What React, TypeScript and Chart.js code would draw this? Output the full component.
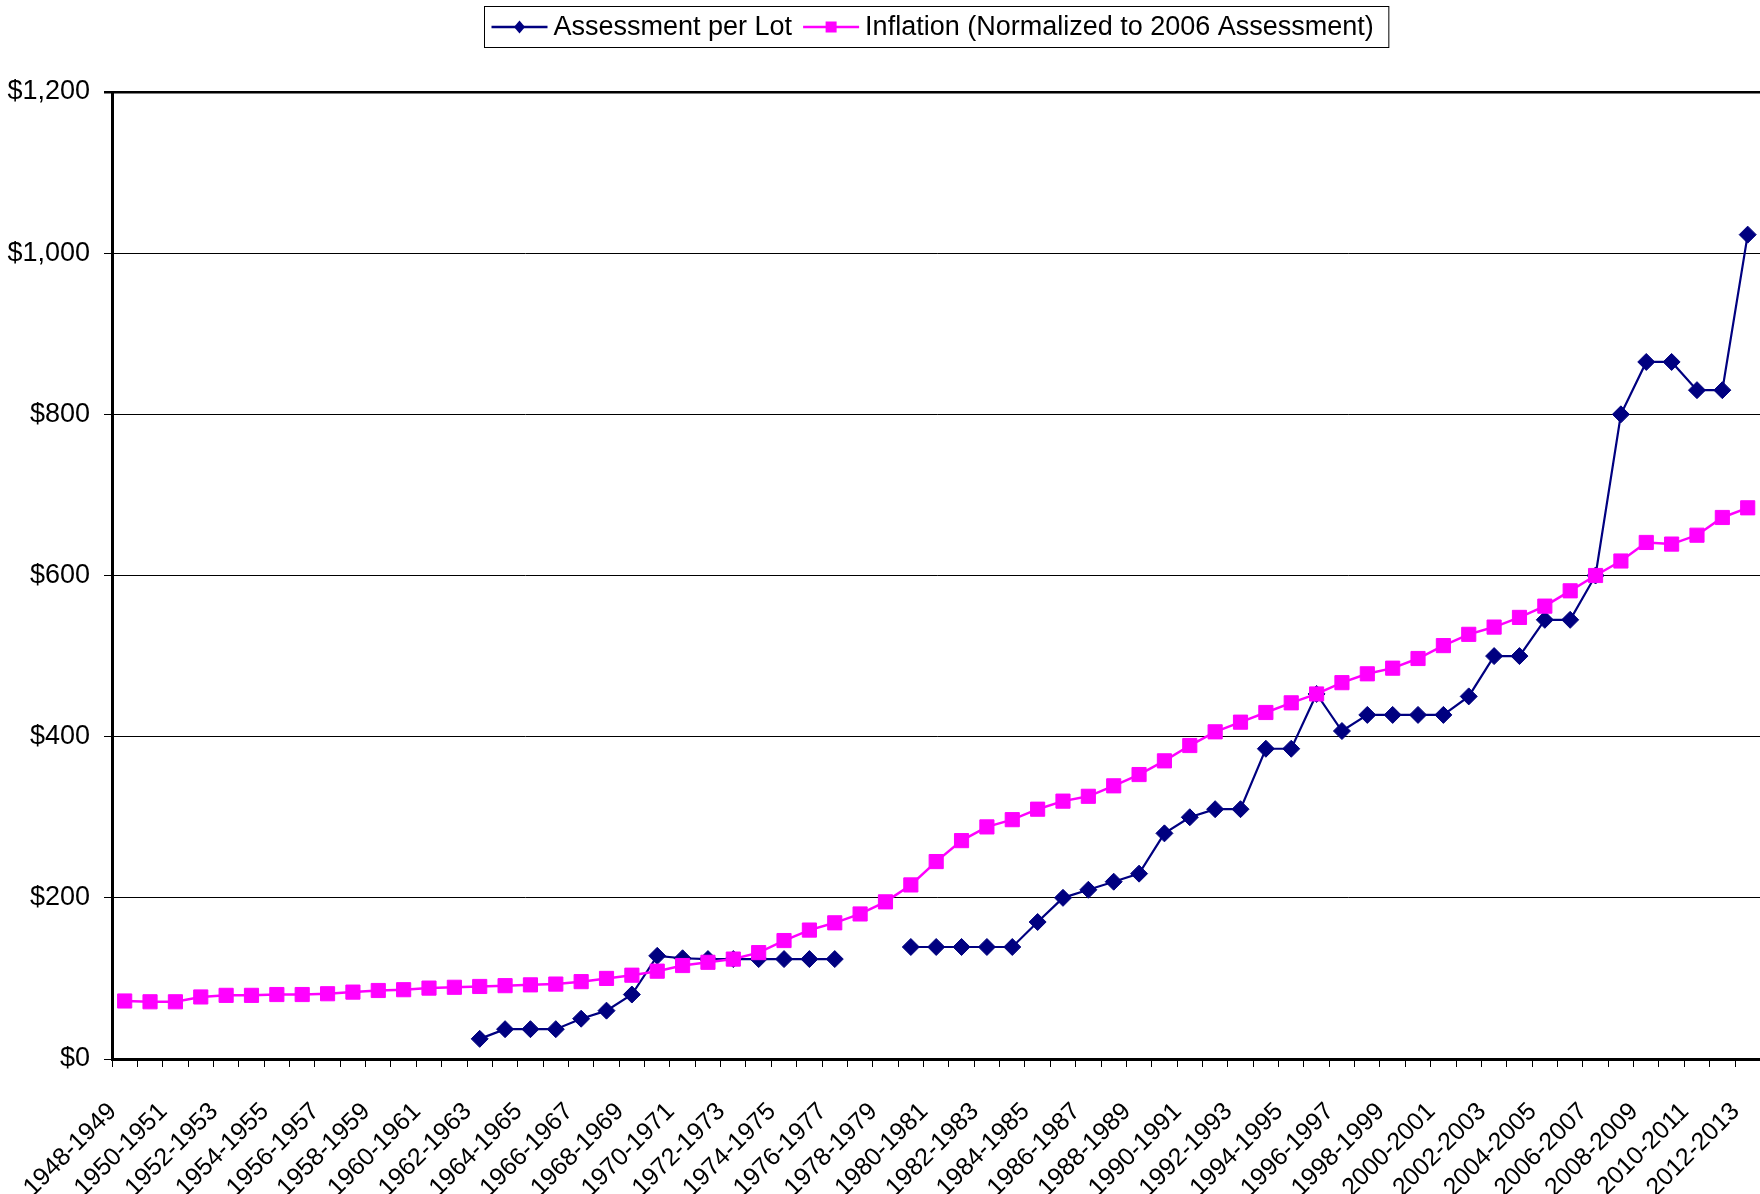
import React, { useEffect, useRef } from 'react';
import { Chart, registerables } from 'chart.js';

Chart.register(...registerables);

const categories = [
  '1948-1949', '1949-1950', '1950-1951', '1951-1952', '1952-1953', '1953-1954', '1954-1955', '1955-1956',
  '1956-1957', '1957-1958', '1958-1959', '1959-1960', '1960-1961', '1961-1962', '1962-1963', '1963-1964',
  '1964-1965', '1965-1966', '1966-1967', '1967-1968', '1968-1969', '1969-1970', '1970-1971', '1971-1972',
  '1972-1973', '1973-1974', '1974-1975', '1975-1976', '1976-1977', '1977-1978', '1978-1979', '1979-1980',
  '1980-1981', '1981-1982', '1982-1983', '1983-1984', '1984-1985', '1985-1986', '1986-1987', '1987-1988',
  '1988-1989', '1989-1990', '1990-1991', '1991-1992', '1992-1993', '1993-1994', '1994-1995', '1995-1996',
  '1996-1997', '1997-1998', '1998-1999', '1999-2000', '2000-2001', '2001-2002', '2002-2003', '2003-2004',
  '2004-2005', '2005-2006', '2006-2007', '2007-2008', '2008-2009', '2009-2010', '2010-2011', '2011-2012',
  '2012-2013',
];

const assessmentPerLot: (number | null)[] = [
  null, null, null, null, null, null, null, null, null, null, null, null, null, null,
  25, 37, 37, 37, 50, 60, 80, 128, 125, 124, 124, 124, 124, 124, 124,
  null, null,
  139, 139, 139, 139, 139,
  170, 200, 210, 220, 230, 280, 300, 310, 310, 385, 385,
  453, 407, 427, 427, 427, 427, 450, 500, 500, 545, 545, 600, 800, 865, 865, 830, 830, 1023,
];

const inflation: number[] = [
  72, 71, 71, 77, 79, 79, 80, 80, 81, 83,
  85, 86, 88, 89, 90, 91, 92, 93, 96, 100,
  104, 109, 116, 120, 124, 132, 147, 160, 169, 180,
  195, 216, 245, 271, 288, 297, 310, 320, 326, 339,
  353, 370, 389, 406, 418, 430, 442, 453, 467, 478,
  485, 497, 513, 527, 536, 548, 562, 581, 600, 618,
  641, 639, 650, 672, 684,
];

const yMin = 0;
const yMax = 1200;
const yStep = 200;

const seriesNames = ['Assessment per Lot', 'Inflation (Normalized to 2006 Assessment)'];
const seriesColors = ['#000080', '#FF00FF'];

const FONT = '"Liberation Sans", Arial, Helvetica, sans-serif';
const VIEW_W = 1760;
const VIEW_H = 1194;

const legendPlugin = {
  id: 'customLegend',
  afterDraw(chart: any) {
    const ctx = chart.ctx as CanvasRenderingContext2D;
    const { left, right } = chart.chartArea;
    ctx.save();
    ctx.font = `27px ${FONT}`;
    const padL = 7, padR = 15, sample = 56, gapT = 6, gapI = 11;
    const widths = seriesNames.map((n) => ctx.measureText(n).width);
    const total = padL + padR + widths.reduce((a, w) => a + sample + gapT + w, 0) + gapI * (seriesNames.length - 1);
    const cx = (left + right) / 2;
    const x0 = Math.round(cx - total / 2) + 0.5;
    const y0 = 6.5;
    const h = 41;
    ctx.fillStyle = '#fff';
    ctx.fillRect(x0, y0, total, h);
    ctx.strokeStyle = '#000';
    ctx.lineWidth = 1;
    ctx.strokeRect(x0, y0, total, h);
    const cy = y0 + h / 2;
    let x = x0 + padL;
    seriesNames.forEach((name, i) => {
      const col = seriesColors[i];
      ctx.strokeStyle = col;
      ctx.lineWidth = 2.5;
      ctx.beginPath();
      ctx.moveTo(x, cy);
      ctx.lineTo(x + sample, cy);
      ctx.stroke();
      const mx = x + sample / 2;
      ctx.fillStyle = col;
      ctx.beginPath();
      if (i === 0) {
        ctx.moveTo(mx, cy - 6.5);
        ctx.lineTo(mx + 5.5, cy);
        ctx.lineTo(mx, cy + 6.5);
        ctx.lineTo(mx - 5.5, cy);
        ctx.closePath();
        ctx.fill();
      } else {
        ctx.fillRect(mx - 5.5, cy - 5.5, 11, 11);
      }
      x += sample + gapT;
      ctx.fillStyle = '#000';
      ctx.textBaseline = 'middle';
      ctx.textAlign = 'left';
      ctx.fillText(name, x, cy + 1);
      x += widths[i] + gapI;
    });
    ctx.restore();
  },
};

function makeConfig(): any {
  return {
    type: 'line',
    data: {
      labels: categories,
      datasets: [
        {
          label: seriesNames[0],
          data: assessmentPerLot,
          borderColor: seriesColors[0],
          backgroundColor: seriesColors[0],
          pointBackgroundColor: seriesColors[0],
          pointBorderColor: seriesColors[0],
          borderWidth: 2.2,
          pointStyle: 'rectRot',
          pointRadius: 8.5,
          pointBorderWidth: 1,
          spanGaps: false,
          tension: 0,
          order: 2,
        },
        {
          label: seriesNames[1],
          data: inflation,
          borderColor: seriesColors[1],
          backgroundColor: seriesColors[1],
          pointBackgroundColor: seriesColors[1],
          pointBorderColor: seriesColors[1],
          borderWidth: 2.5,
          pointStyle: 'rect',
          pointRadius: 10,
          pointBorderWidth: 1,
          tension: 0,
          order: 1,
        },
      ],
    },
    options: {
      responsive: false,
      maintainAspectRatio: false,
      animation: false,
      devicePixelRatio: 1,
      layout: { padding: { top: 92, right: 0, left: 0, bottom: 0 } },
      plugins: {
        legend: { display: false },
        tooltip: { enabled: false },
      },
      scales: {
        x: {
          type: 'category',
          offset: true,
          grid: {
            offset: true,
            drawOnChartArea: false,
            drawTicks: true,
            tickLength: 8,
            color: '#000',
            lineWidth: 1,
          },
          border: { display: true, color: '#000', width: 3 },
          ticks: {
            autoSkip: false,
            maxRotation: 45,
            minRotation: 45,
            color: '#000',
            font: { family: FONT, size: 25 },
            padding: 30,
            labelOffset: -12,
            callback: (_v: any, i: number) => (i % 2 === 0 ? categories[i] : ''),
          },
          afterFit: (s: any) => {
            s.height = 135;
          },
        },
        y: {
          min: yMin,
          max: yMax,
          ticks: {
            stepSize: yStep,
            color: '#000',
            font: { family: FONT, size: 27 },
            padding: 14,
            callback: (v: any) => '$' + Number(v).toLocaleString('en-US'),
          },
          grid: {
            color: '#000',
            lineWidth: (c: any) => (c.tick && c.tick.value === yMax ? 2.5 : 1),
            tickLength: 8,
            drawTicks: true,
          },
          border: { display: true, color: '#000', width: 3 },
          afterFit: (s: any) => {
            s.width = 112;
          },
        },
      },
    },
    plugins: [legendPlugin],
  };
}

export default function App() {
  const ref = useRef<HTMLCanvasElement | null>(null);

  useEffect(() => {
    const canvas = ref.current;
    if (!canvas) return;
    let chart: Chart | null = null;
    let w = VIEW_W;
    // The reference plot runs up to the picture's right edge; Chart.js keeps a
    // margin for the last rotated label, so widen the canvas by that margin
    // and let the wrapper clip it.
    for (let k = 0; k < 4; k++) {
      canvas.width = w;
      canvas.height = VIEW_H;
      canvas.style.width = `${w}px`;
      canvas.style.height = `${VIEW_H}px`;
      chart = new Chart(canvas, makeConfig());
      const gap = VIEW_W - chart.chartArea.right;
      if (Math.abs(gap) < 0.5 || k === 3) break;
      chart.destroy();
      chart = null;
      w = Math.round(w + gap);
    }
    return () => {
      if (chart) chart.destroy();
    };
  }, []);

  return (
    <div style={{ position: 'absolute', left: 0, top: 0, width: VIEW_W, height: VIEW_H, overflow: 'hidden', background: '#fff' }}>
      <div style={{ width: 2000, height: VIEW_H }}>
        <canvas ref={ref} width={VIEW_W} height={VIEW_H} style={{ display: 'block' }} />
      </div>
    </div>
  );
}
